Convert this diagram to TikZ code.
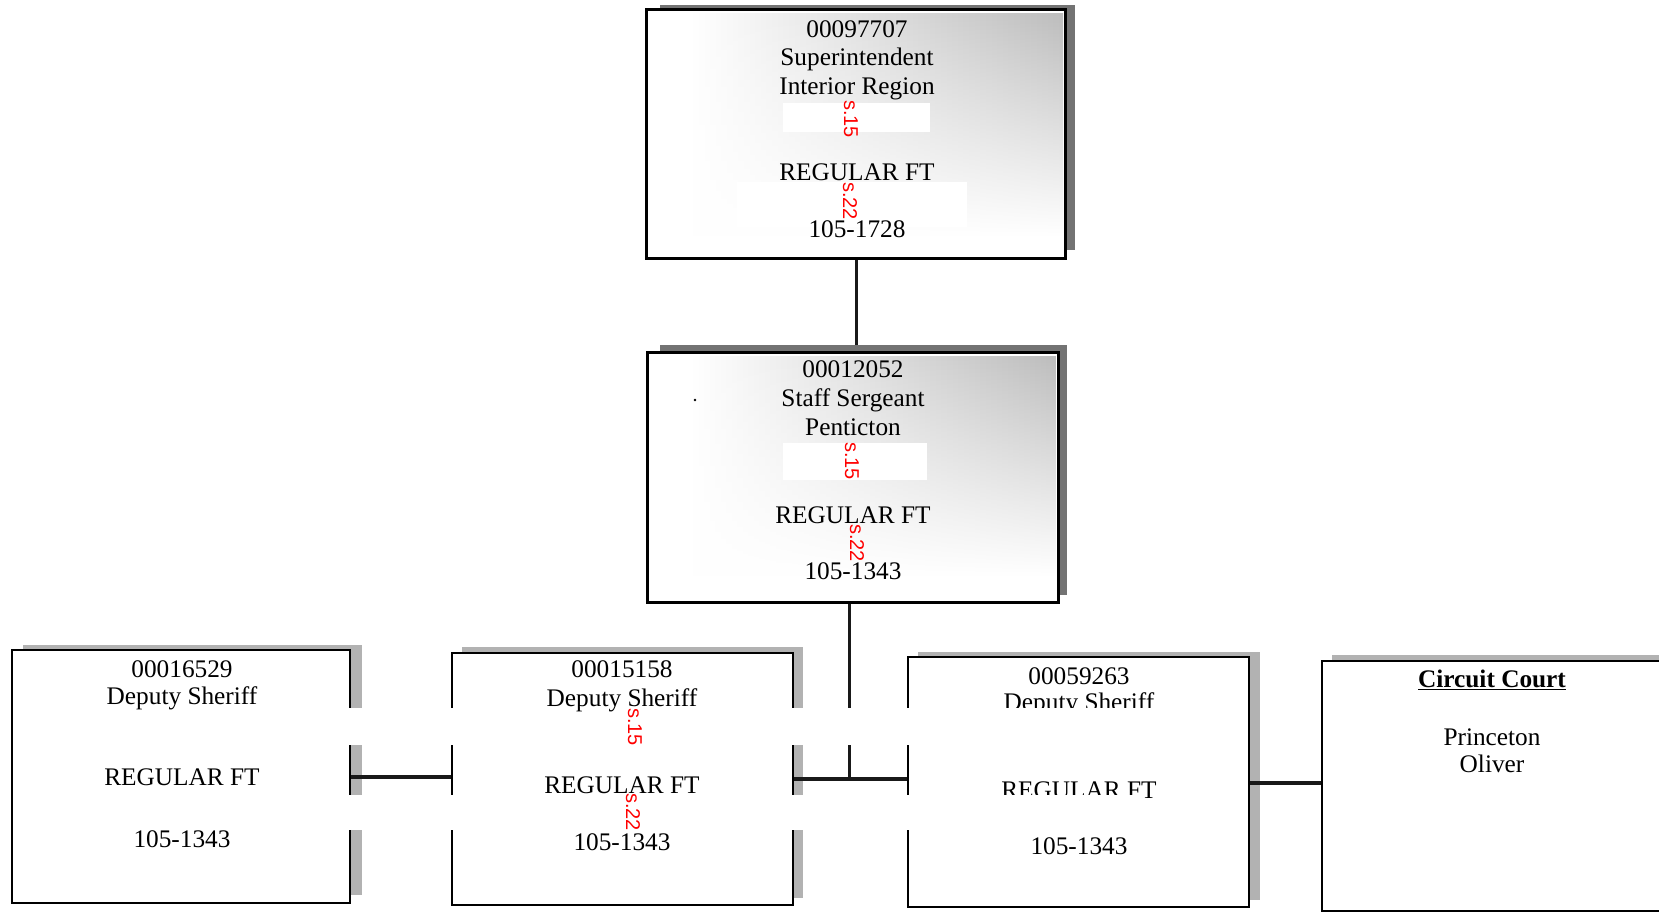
\documentclass[tikz,border=0pt]{standalone}
\usepackage{fontspec}
\setmainfont{Liberation Serif}
\newfontfamily\redfont{Liberation Sans}
\usetikzlibrary{fadings}
\tikzfading[name=fadedownward, top color=transparent!0, middle color=transparent!15, bottom color=transparent!100]
\begin{document}
\begin{tikzpicture}[x=1pt,y=-1pt,
  box/.style={draw=black, line width=2.2pt, fill=white, rectangle, inner sep=0pt},
  shdark/.style={fill=black!55},
  shlight/.style={fill=black!30},
  lbl/.style={font=\fontsize{25.3}{29}\selectfont, inner sep=0pt, anchor=base},
  redlbl/.style={font=\redfont\fontsize{20}{20}\selectfont, text=red, rotate=-90, inner sep=0pt},
  conn/.style={line width=3.6pt, black!90},
  band/.style={fill=white},
  stipple/.style={left color=white, right color=black!26, path fading=fadedownward}
]
\useasboundingbox (0,0) rectangle (1659,914);
\clip (0,0) rectangle (1659,914);
\fill[white] (0,0) rectangle (1659,914);

% junction coordinates
\coordinate (J) at (849.6,779);
\coordinate (LAB) at (0,777);
\coordinate (LCD) at (0,783);

% shadows
\fill[shdark] (660,5) rectangle (1075,250);
\fill[shdark] (660,345) rectangle (1067,595);
\fill[shlight] (23,645) rectangle (362,895);
\fill[shlight] (462,647) rectangle (803,898);
\fill[shlight] (918,652) rectangle (1260,900);
\fill[shlight] (1332,655) rectangle (1690,905);

% boxes
\node[box, minimum width=418pt, minimum height=248pt] (T) at (856,134) {};
\node[box, minimum width=410pt, minimum height=249pt] (M) at (853,477.5) {};
\node[box, minimum width=338pt, minimum height=253pt] (A) at (181,776.5) {};
\node[box, minimum width=341pt, minimum height=252pt] (B) at (622.5,779) {};
\node[box, minimum width=341pt, minimum height=250pt] (C) at (1078.5,782) {};
\node[box, minimum width=348pt, minimum height=250pt] (D) at (1496,786) {};

% connectors
\draw[conn, line width=3pt] (T.south) -- (T.south |- 0,345);
\draw[conn, line width=3pt] (M.south -| J) -- (J);
\draw[conn] (A.east |- LAB) -- (B.west |- LAB);
\draw[conn] (B.east |- J) -- (C.west |- J);
\draw[conn] (C.east |- LCD) -- (D.west |- LCD);

% stipple shading inside upper boxes
\shade[stipple] (690,13) rectangle (1063,235);
\shade[stipple] (690,356) rectangle (1056,575);
\fill[white] (783,103) rectangle (930,132);
\fill[white] (737,182) rectangle (967,227);
\fill[white] (783,443) rectangle (927,480);
\draw[black, line width=2.2pt] (T.north west) rectangle (T.south east);
\draw[black, line width=2.2pt] (M.north west) rectangle (M.south east);
\fill (695,400) circle (1.3);

% top box text
\node[lbl] (t1) at (857,37) {00097707};
\node[lbl] (t2) at (857,65.5) {Superintendent};
\node[lbl] (t3) at (857,94) {Interior Region};
\node[lbl] (t4) at (857,180) {REGULAR FT};
\node[lbl] (t5) at (857,237.5) {105-1728};

% middle box text
\node[lbl] (m1) at (853,377) {00012052};
\node[lbl] (m2) at (853,406) {Staff Sergeant};
\node[lbl] (m3) at (853,435) {Penticton};
\node[lbl] (m4) at (853,523) {REGULAR FT};
\node[lbl] (m5) at (853,579) {105-1343};

% box C text (partly covered by bands)
\node[lbl] (c1) at (1079,684) {00059263};
\node[lbl] (c2) at (1079,710) {Deputy Sheriff};
\node[lbl] (c3) at (1079,798) {REGULAR FT};
\node[lbl] (c4) at (1079,854) {105-1343};

% white bands
\fill[band] (97,708) rectangle (1178,745);
\fill[band] (300,795) rectangle (1137,830);

% box A text
\node[lbl] (a1) at (182,677) {00016529};
\node[lbl] (a2) at (182,704) {Deputy Sheriff};
\node[lbl] (a3) at (182,785) {REGULAR FT};
\node[lbl] (a4) at (182,847) {105-1343};

% box B text
\node[lbl] (b1) at (622,677) {00015158};
\node[lbl] (b2) at (622,706) {Deputy Sheriff};
\node[lbl] (b3) at (622,793) {REGULAR FT};
\node[lbl] (b4) at (622,850) {105-1343};

% box D text
\node[lbl] (d1) at (1492,687) {\textbf{\underline{Circuit Court}}};
\node[lbl] (d2) at (1492,745) {Princeton};
\node[lbl] (d3) at (1492,772) {Oliver};

% red labels
\node[redlbl] (r1) at (851,119) {s.15};
\node[redlbl] (r2) at (850,201) {s.22};
\node[redlbl] (r3) at (852,461) {s.15};
\node[redlbl] (r4) at (857,543) {s.22};
\node[redlbl] (r5) at (635,727) {s.15};
\node[redlbl] (r6) at (633,812) {s.22};
\end{tikzpicture}
\end{document}
